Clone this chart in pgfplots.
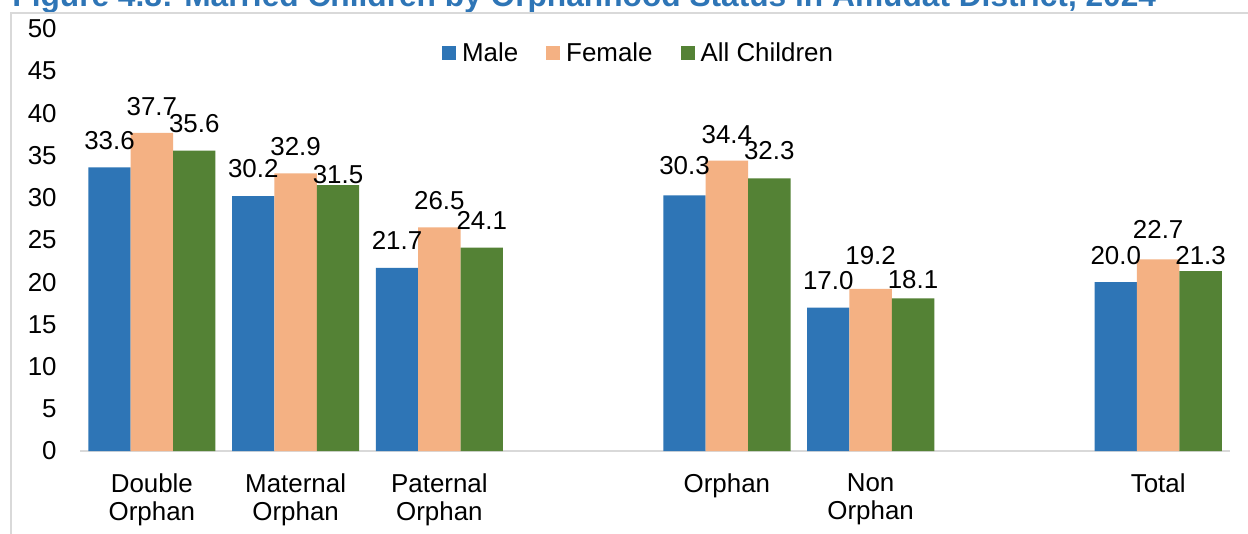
\documentclass[border=0pt]{standalone}
\usepackage{pgfplots}
\usepackage{pgfplotstable}
\pgfplotsset{compat=1.18}
\usepackage{fontspec}
\setmainfont{Liberation Sans}
\definecolor{cMale}{HTML}{2E75B6}
\definecolor{cFemale}{HTML}{F4B183}
\definecolor{cAll}{HTML}{548235}
\definecolor{cTitle}{HTML}{2E75B6}
\definecolor{cFrame}{HTML}{D9D9D9}

% x = slot, y = percent, dy = gap of the value label above the bar (px)
\pgfplotstableread{
x y dy
0 33.6 17
1 30.2 18
2 21.7 18
4 30.3 20
5 17.0 17
7 20.0 17
}\male
\pgfplotstableread{
x y dy
0 37.7 17
1 32.9 17.5
2 26.5 17.5
4 34.4 17
5 19.2 24
7 22.7 21
}\female
\pgfplotstableread{
x y dy
0 35.6 17
1 31.5 1
2 24.1 17.5
4 32.3 18
5 18.1 9
7 21.3 6
}\allch

\begin{document}
\begin{tikzpicture}[x=0.5bp,y=-0.5bp]
% title, mostly cut off by the page edge and the chart area
\node[anchor=base west, inner sep=0pt, text=cTitle,
  font=\fontsize{15.9}{18}\selectfont\bfseries] at (12,7)
  {Figure 4.8: Married Children by Orphanhood Status in Amudat District, 2024};
\fill[white] (11,13) rectangle (1260,540);
\draw[cFrame, line width=0.75bp] (11,540) -- (11,13) -- (1260,13);

\begin{axis}[
  at={(40bp,-225.5bp)}, anchor=south west,
  scale only axis, width=575bp, height=211bp,
  ybar=0pt, bar width=21.2bp,
  xmin=-0.5, xmax=7.5, ymin=0, ymax=50,
  xtick={0,1,2,4,5,7},
  xticklabels={{Double\\Orphan},{Maternal\\Orphan},{Paternal\\Orphan},{Orphan},{Non\\Orphan},{Total}},
  ytick={0,5,...,50},
  axis x line*=bottom, axis y line*=left,
  axis line style={-},
  x axis line style={cFrame, line width=0.75bp},
  y axis line style={draw=none},
  major tick length=0pt,
  tick label style={font=\fontsize{13}{14}\selectfont},
  /pgf/number format/assume math mode=true,
  yticklabel style={anchor=east, inner sep=0pt, xshift=-11.5bp},
  xticklabel style={anchor=north, align=center, inner sep=0pt, yshift=-11bp},
  clip=false,
  visualization depends on={\thisrow{dy} \as \dy},
  nodes near coords={\pgfmathprintnumber[fixed,fixed zerofill,precision=1,assume math mode=true]{\pgfplotspointmeta}},
  every node near coord/.append style={font=\fontsize{13}{14}\selectfont, anchor=south, inner sep=0pt, yshift=0.5*\dy bp, text=black},
  legend style={at={(0.4848,0.942)}, anchor=center, draw=none, fill=none,
    font=\fontsize{13}{14}\selectfont, nodes={inner sep=0pt},
    /tikz/every odd column/.append style={column sep=3bp},
    /tikz/every even column/.append style={column sep=14bp}},
  legend columns=-1,
  legend image code/.code={\fill[#1] (0bp,-3.5bp) rectangle (7bp,3.5bp);},
]
\addplot[fill=cMale, draw=none] table[x=x, y=y] {\male};
\addlegendentry{Male}
\addplot[fill=cFemale, draw=none] table[x=x, y=y] {\female};
\addlegendentry{Female}
\addplot[fill=cAll, draw=none] table[x=x, y=y] {\allch};
\addlegendentry{All Children}
\end{axis}

\pgfresetboundingbox
\useasboundingbox (0,0) rectangle (1248,534);
\end{tikzpicture}
\end{document}
